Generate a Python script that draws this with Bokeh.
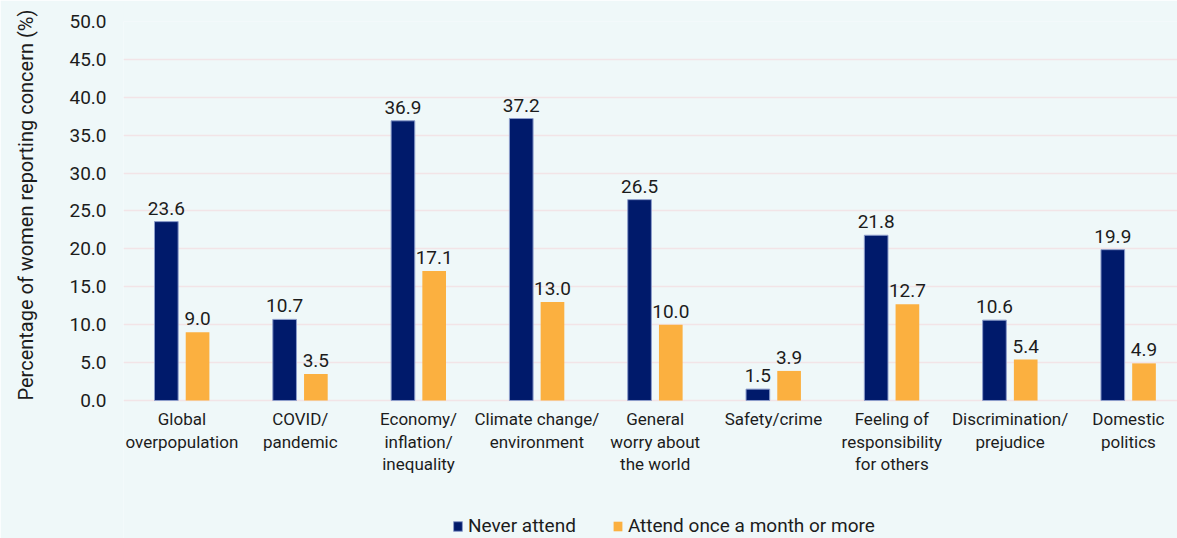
from bokeh.plotting import figure
from bokeh.models import ColumnDataSource, Range1d, FixedTicker, Legend, LegendItem, NumeralTickFormatter, Title
from bokeh.transform import dodge
from bokeh.core.properties import value
from bokeh.embed import file_html
from bokeh.resources import INLINE

categories = ["Global\noverpopulation", "COVID/\npandemic", "Economy/\ninflation/\ninequality",
              "Climate change/\nenvironment", "General\nworry about\nthe world", "Safety/crime",
              "Feeling of\nresponsibility\nfor others", "Discrimination/\nprejudice", "Domestic\npolitics"]
never_attend = [23.6, 10.7, 36.9, 37.2, 26.5, 1.5, 21.8, 10.6, 19.9]
attend_monthly = [9.0, 3.5, 17.1, 13.0, 10.0, 3.9, 12.7, 5.4, 4.9]
series_names = ["Never attend", "Attend once a month or more"]
y_ticks = [0, 5, 10, 15, 20, 25, 30, 35, 40, 45, 50]
y_title = "Percentage of women reporting concern (%)"

FONT = "Roboto"
BG = "#EFF8F9"
NAVY = "#001A6B"
ORANGE = "#FBB040"
TXT = "#1c1c1c"

xs = list(range(len(categories)))
src = ColumnDataSource(dict(
    x=xs, never=never_attend, attend=attend_monthly,
    never_lbl=[f"{v:.1f}" for v in never_attend],
    attend_lbl=[f"{v:.1f}" for v in attend_monthly],
))

# frame spans top=21 .. bottom=538; value 0 sits at y=400 (7.58 px per unit)
p = figure(width=1177, height=538, output_backend="svg", toolbar_location=None,
           x_range=Range1d(-0.494, 8.415), y_range=Range1d(-18.206, 50),
           min_border_left=123, min_border_right=0, min_border_top=21, min_border_bottom=0,
           background_fill_color=BG, border_fill_color=BG, outline_line_color=None)

off = 0.132
w = 0.2
r1 = p.vbar(x=dodge("x", -off, range=p.x_range), top="never", width=w, source=src,
            fill_color=NAVY, line_color="#8C9DCB", line_width=1)
r2 = p.vbar(x=dodge("x", off, range=p.x_range), top="attend", width=w, source=src,
            fill_color=ORANGE, line_color=None)

for col, lab, o in [("never", "never_lbl", -off), ("attend", "attend_lbl", off)]:
    p.text(x=dodge("x", o, range=p.x_range), y=col, text=lab, source=src,
           text_font=value(FONT), text_font_size="19px", text_color=TXT,
           text_align="center", text_baseline="bottom", y_offset=-7)

# x axis pinned at value 0
p.xaxis.fixed_location = 0
p.xaxis.ticker = FixedTicker(ticks=xs)
p.xaxis.major_label_overrides = {i: c for i, c in enumerate(categories)}
p.xaxis.major_label_text_font = FONT
p.xaxis.major_label_text_font_size = "17px"
p.xaxis.major_label_text_color = TXT
p.xaxis.major_label_text_line_height = 1.11
p.xaxis.major_label_standoff = 9
p.xaxis.axis_line_color = None
p.xaxis.major_tick_line_color = None
p.xaxis.minor_tick_line_color = None
p.xaxis.major_tick_out = 0

p.yaxis.ticker = FixedTicker(ticks=y_ticks)
p.yaxis.formatter = NumeralTickFormatter(format="0.0")
p.yaxis.major_label_text_font = FONT
p.yaxis.major_label_text_font_size = "19px"
p.yaxis.major_label_text_color = TXT
p.yaxis.major_label_standoff = 17
p.yaxis.axis_line_color = None
p.yaxis.major_tick_line_color = None
p.yaxis.minor_tick_line_color = None
p.yaxis.major_tick_out = 0

# spacer between tick labels and the vertical title, then the title itself
p.add_layout(Title(text=" ", text_font_size="10px", standoff=16), "left")
p.add_layout(Title(text=y_title, align="left", offset=138, standoff=0,
                   text_font=FONT, text_font_size="20px", text_font_style="normal",
                   text_color=TXT), "left")

p.xgrid.grid_line_color = None
p.ygrid.grid_line_color = "#F2E4E7"
p.ygrid.grid_line_width = 1.5

legend = Legend(items=[LegendItem(label=series_names[0], renderers=[r1]),
                       LegendItem(label=series_names[1], renderers=[r2])],
                location=(329, 1), orientation="horizontal",
                label_text_font=FONT, label_text_font_size="19px", label_text_color=TXT,
                glyph_width=11, glyph_height=12, label_standoff=5, spacing=36,
                padding=0, margin=0, border_line_color=None, background_fill_alpha=0)
p.add_layout(legend, "center")

open("out.html", "w").write(file_html(p, INLINE))
